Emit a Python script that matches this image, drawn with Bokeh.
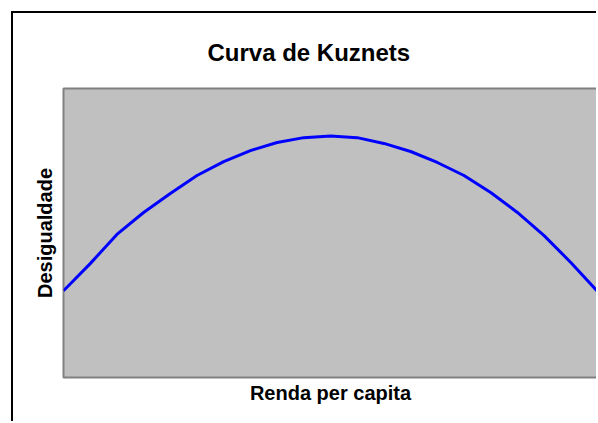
from bokeh.plotting import figure
from bokeh.models import FixedTicker, Range1d
from bokeh.embed import file_html
from bokeh.resources import INLINE

# Data
renda = [0, 0.5, 1, 1.5, 2, 2.5, 3, 3.5, 4, 4.5, 5,
         5.5, 6, 6.5, 7, 7.5, 8, 8.5, 9, 9.5, 10]
desigualdade = [3.00, 3.94, 4.95, 5.71, 6.37, 6.99, 7.47, 7.85, 8.13, 8.30, 8.36,
                8.30, 8.10, 7.82, 7.44, 6.99, 6.40, 5.71, 4.91, 3.98, 2.98]

titulo = "Curva de Kuznets"
rotulo_x = "Renda per capita"
rotulo_y = "Desigualdade"

FONT = "Liberation Sans"

p = figure(width=585, height=410, output_backend="svg", toolbar_location=None,
           x_range=Range1d(0, 10), y_range=Range1d(0, 10),
           min_border_left=50, min_border_right=1, min_border_top=75, min_border_bottom=46)
p.margin = (11, 0, 0, 11)

p.background_fill_color = "#C0C0C0"
p.border_fill_color = "white"
p.outline_line_color = "#808080"
p.outline_line_width = 2
p.grid.visible = False

p.title.text = titulo
p.title.text_font = FONT
p.title.text_font_size = "24px"
p.title.text_font_style = "bold"
p.title.text_color = "black"
p.title.align = "left"
p.title.offset = 144
p.title.standoff = 46

for ax in (p.below[0], p.left[0]):
    ax.ticker = FixedTicker(ticks=[])
    ax.axis_line_color = None
    ax.major_tick_line_color = None
    ax.minor_tick_line_color = None
    ax.major_label_text_font_size = "0px"
    ax.axis_label_text_font = FONT
    ax.axis_label_text_font_style = "bold"
    ax.axis_label_text_font_size = "20px"
    ax.axis_label_text_color = "black"

p.below[0].axis_label = rotulo_x
p.left[0].axis_label = rotulo_y
p.below[0].axis_label_standoff = 4
p.left[0].axis_label_standoff = 8

p.line(renda, desigualdade, line_color="#0000FF", line_width=3)

p.styles = {"border-left": "2px solid black", "border-top": "2px solid black"}

open("out.html", "w").write(file_html(p, INLINE))
